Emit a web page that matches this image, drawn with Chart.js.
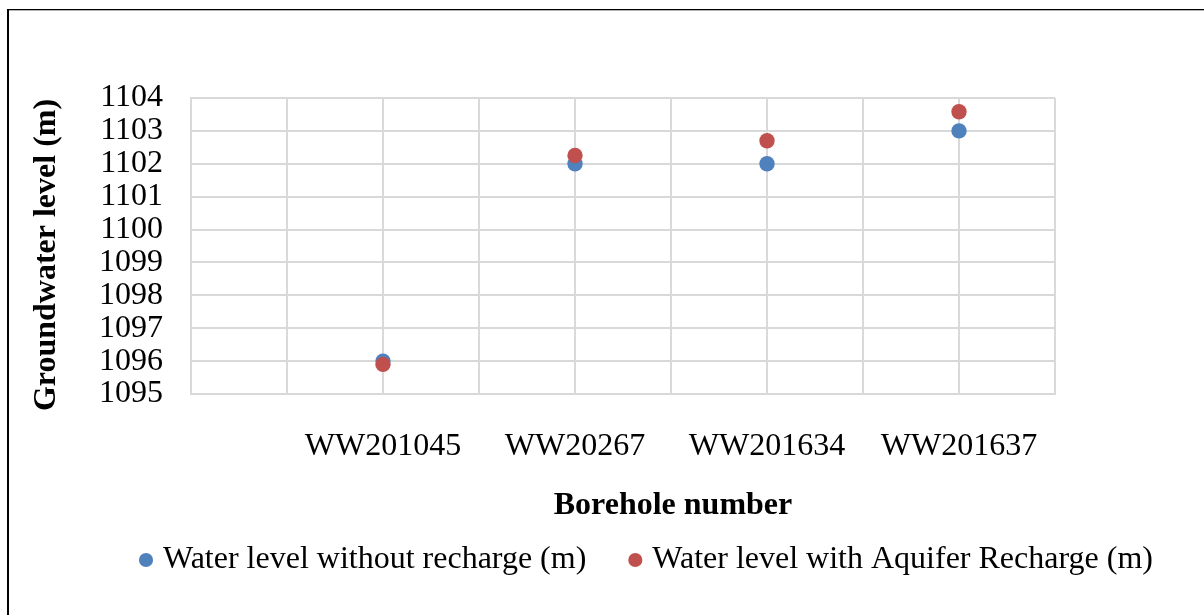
<!DOCTYPE html>
<html>
<head>
<meta charset="utf-8">
<script src="https://cdn.jsdelivr.net/npm/chart.js@4/dist/chart.umd.min.js"></script>
<style>
  html, body { margin: 0; padding: 0; background: #fff; }
  #wrap { width: 1204px; height: 615px; position: relative; }
</style>
</head>
<body>
<div id="wrap"><canvas id="c" width="1204" height="615"></canvas></div>
<script>
// Borehole identifiers (x categories) and groundwater levels in metres
const boreholes = ['WW201045', 'WW20267', 'WW201634', 'WW201637'];
const withoutRecharge = [1096, 1102, 1102, 1103];
const withRecharge = [1095.9, 1102.25, 1102.7, 1103.58];
const seriesNames = ['Water level without recharge (m)', 'Water level with Aquifer Recharge (m)'];
const yRange = [1095, 1104];
const xTitle = 'Borehole number';
const yTitle = 'Groundwater level (m)';

const FONT = '"Liberation Serif", "Times New Roman", serif';
const FONT_SIZE = 32;
const BLUE = '#4F81BD';
const RED = '#C0504D';
const GRID = '#D9D9D9';

const toPoints = vals => vals.map((v, i) => ({ x: i + 1, y: v }));

// White page, frame lines and the two axis titles
const framePlugin = {
  id: 'frame',
  beforeDraw(chart) {
    const ctx = chart.ctx;
    ctx.save();
    ctx.fillStyle = '#fff';
    ctx.fillRect(0, 0, chart.width, chart.height);
    ctx.restore();
  },
  afterDraw(chart) {
    const ctx = chart.ctx;
    const a = chart.chartArea;
    ctx.save();
    ctx.fillStyle = '#000';
    ctx.fillRect(7, 9, chart.width - 7, 1.3);
    ctx.fillRect(7, 9, 2, chart.height - 9);

    ctx.font = 'bold ' + FONT_SIZE + 'px ' + FONT;
    ctx.fillStyle = '#000';
    ctx.textAlign = 'center';
    ctx.textBaseline = 'middle';
    ctx.fillText(xTitle, (a.left + a.right) / 2 + 50, a.bottom + 112);

    ctx.translate(47, (a.top + a.bottom) / 2 + 9);
    ctx.rotate(-Math.PI / 2);
    ctx.fillText(yTitle, 0, 0);
    ctx.restore();
  }
};

new Chart(document.getElementById('c'), {
  type: 'scatter',
  data: {
    datasets: [
      {
        label: seriesNames[0],
        data: toPoints(withoutRecharge),
        backgroundColor: BLUE,
        borderColor: BLUE,
        pointRadius: 7.7,
        pointHoverRadius: 7.7,
        borderWidth: 0,
        order: 1
      },
      {
        label: seriesNames[1],
        data: toPoints(withRecharge),
        backgroundColor: RED,
        borderColor: RED,
        pointRadius: 7.7,
        pointHoverRadius: 7.7,
        borderWidth: 0,
        order: 0
      }
    ]
  },
  options: {
    responsive: false,
    animation: false,
    devicePixelRatio: 1,
    layout: { padding: { top: 98, left: 97, right: 0, bottom: 29 } },
    plugins: {
      tooltip: { enabled: false },
      legend: {
        position: 'bottom',
        align: 'start',
        labels: {
          usePointStyle: true,
          pointStyle: 'circle',
          boxWidth: 2,
          boxHeight: 10,
          padding: 48,
          color: '#000',
          font: { family: FONT, size: FONT_SIZE },
          sort: (a, b) => a.datasetIndex - b.datasetIndex
        }
      }
    },
    scales: {
      x: {
        type: 'linear',
        min: 0,
        max: boreholes.length + 0.5,
        grid: { color: GRID, lineWidth: 2, drawTicks: false },
        border: { color: GRID, width: 2 },
        ticks: {
          stepSize: 0.5,
          autoSkip: false,
          maxRotation: 0,
          padding: 33,
          color: '#000',
          font: { family: FONT, size: FONT_SIZE },
          callback: v => (Number.isInteger(v) && v >= 1 && v <= boreholes.length) ? boreholes[v - 1] : ''
        },
        afterFit: s => { s.height = 102; }
      },
      y: {
        type: 'linear',
        min: yRange[0],
        max: yRange[1],
        grid: { color: GRID, lineWidth: 2, drawTicks: false },
        border: { color: GRID, width: 2 },
        ticks: {
          stepSize: 1,
          autoSkip: false,
          padding: 28,
          color: '#000',
          font: { family: FONT, size: FONT_SIZE },
          callback: v => String(v)
        },
        afterFit: s => { s.width = 94; }
      },
      yRight: {
        type: 'linear',
        position: 'right',
        display: true,
        grid: { display: false, drawTicks: false },
        border: { display: false },
        ticks: { display: false },
        afterFit: s => { s.width = 149; }
      }
    }
  },
  plugins: [framePlugin]
});
</script>
</body>
</html>
